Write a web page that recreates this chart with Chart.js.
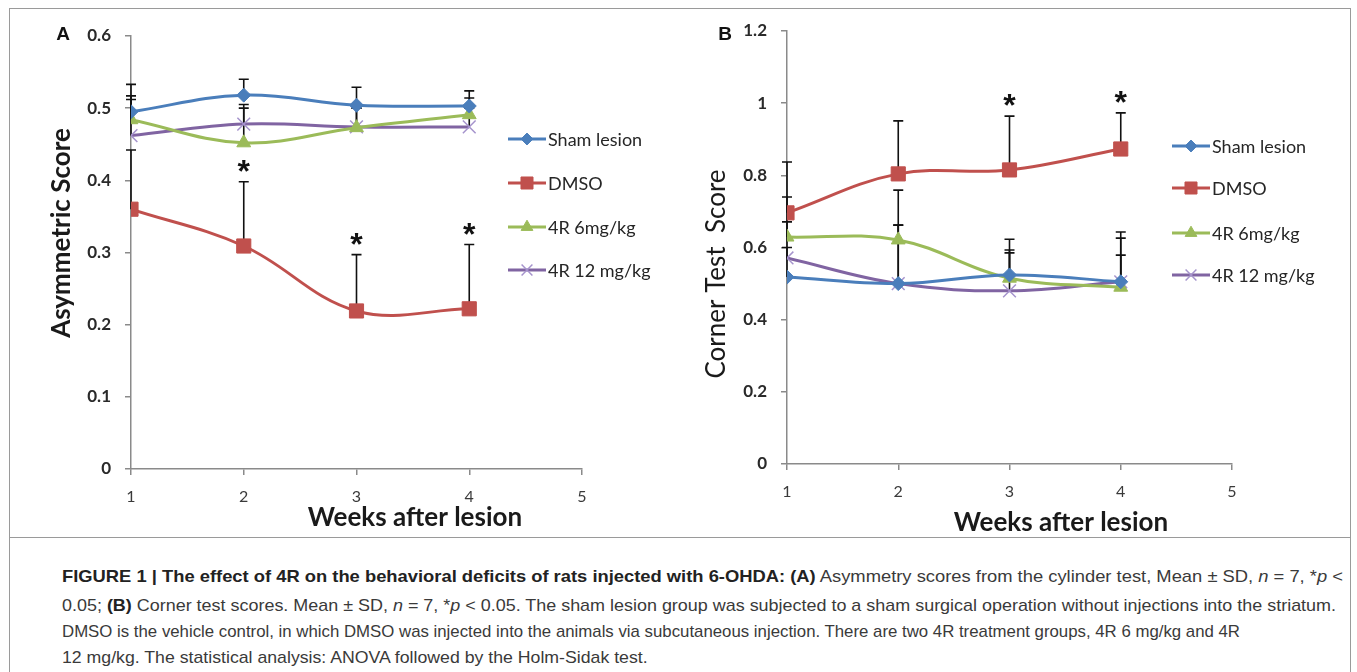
<!DOCTYPE html>
<html><head><meta charset="utf-8">
<script src="https://cdn.jsdelivr.net/npm/chart.js@4.4.0/dist/chart.umd.min.js"></script>
<style>
html,body{margin:0;padding:0;background:#fff;}
body{width:1357px;height:672px;position:relative;overflow:hidden;}
#frame{position:absolute;left:9px;top:8px;width:1342px;height:700px;border:1px solid #9a9a9a;box-sizing:border-box;}
#sep{position:absolute;left:9px;top:537px;width:1342px;height:1px;background:#9a9a9a;}
#ca{position:absolute;left:0;top:0;}
#cb{position:absolute;left:660px;top:0;}
.cap{position:absolute;left:62px;font-family:"Liberation Sans Narrow","Liberation Sans",Arial,sans-serif;font-size:17px;color:#3a3a3a;white-space:nowrap;transform-origin:0 50%;line-height:20px;}
.cap b{color:#222;}
</style></head>
<body>
<div id="frame"></div>
<div id="sep"></div>
<canvas id="ca" width="680" height="540"></canvas>
<canvas id="cb" width="690" height="540"></canvas>
<div class="cap" id="l1" style="top:567px"><b>FIGURE 1 | The effect of 4R on the behavioral deficits of rats injected with 6-OHDA: (A)</b> Asymmetry scores from the cylinder test, Mean ± SD, <i>n</i> = 7, *<i>p</i> &lt;</div>
<div class="cap" id="l2" style="top:596px">0.05; <b>(B)</b> Corner test scores. Mean ± SD, <i>n</i> = 7, *<i>p</i> &lt; 0.05. The sham lesion group was subjected to a sham surgical operation without injections into the striatum.</div>
<div class="cap" id="l3" style="top:622px">DMSO is the vehicle control, in which DMSO was injected into the animals via subcutaneous injection. There are two 4R treatment groups, 4R 6 mg/kg and 4R</div>
<div class="cap" id="l4" style="top:648px">12 mg/kg. The statistical analysis: ANOVA followed by the Holm-Sidak test.</div>
<script>
// ---------- data ----------
const weeks = [1, 2, 3, 4];
const seriesNames = ["Sham lesion", "DMSO", "4R 6mg/kg", "4R 12 mg/kg"];

// Panel A: Asymmetric score (cylinder test)
const shamA  = [0.495, 0.518, 0.504, 0.503];
const dmsoA  = [0.360, 0.309, 0.219, 0.222];
const r6A    = [0.484, 0.452, 0.473, 0.491];
const r12A   = [0.462, 0.478, 0.474, 0.474];
const shamA_sd = [0.038, 0.022, 0.025, 0.021];
const dmsoA_sd = [0.082, 0.089, 0.078, 0.089];
const r6A_sd   = [0.033, 0.048, 0.027, 0.023];
const r12A_sd  = [0.050, 0.027, 0.026, 0.026];
const starsA   = [false, true, true, true];
const yTicksA  = [0, 0.1, 0.2, 0.3, 0.4, 0.5, 0.6];

// Panel B: Corner test score
const shamB  = [0.518, 0.500, 0.524, 0.505];
const dmsoB  = [0.696, 0.804, 0.815, 0.873];
const r6B    = [0.629, 0.621, 0.515, 0.490];
const r12B   = [0.571, 0.500, 0.480, 0.505];
const shamB_sd = [0.082, 0.162, 0.099, 0.138];
const dmsoB_sd = [0.141, 0.147, 0.149, 0.100];
const r6B_sd   = [0.111, 0.138, 0.078, 0.136];
const r12B_sd  = [0.100, 0.162, 0.105, 0.074];
const starsB   = [false, false, true, true];
const yTicksB  = [0, 0.2, 0.4, 0.6, 0.8, 1.0, 1.2];

const xTicks = [1, 2, 3, 4, 5];

// ---------- styles ----------
const styles = [
  {color:'#4a7ebb', pointStyle:'rectRot', radius:7, pbg:'#4a7ebb', pbc:'#4a7ebb', pbw:1},
  {color:'#c0504d', pointStyle:'rect', radius:10, pbg:'#c0504d', pbc:'#c0504d', pbw:1},
  {color:'#9bbb59', pointStyle:'triangle', radius:8, pbg:'#9bbb59', pbc:'#9bbb59', pbw:1},
  {color:'#8064a2', pointStyle:'crossRot', radius:9, pbg:'#a593cc', pbc:'#a593cc', pbw:1.5}
];
const FONT = "Lato, 'Open Sans', sans-serif";

function makeDatasets(series, sds){
  return series.map((vals, i) => ({
    label: seriesNames[i],
    data: weeks.map((w, k) => ({x: w, y: vals[k]})),
    sd: sds[i],
    borderColor: styles[i].color,
    backgroundColor: styles[i].pbg,
    borderWidth: 3,
    tension: 0.38,
    pointStyle: styles[i].pointStyle,
    pointRadius: styles[i].radius,
    pointHoverRadius: styles[i].radius,
    pointBackgroundColor: styles[i].pbg,
    pointBorderColor: styles[i].pbc,
    pointBorderWidth: styles[i].pbw,
    fill: false
  }));
}

const errorBars = {
  id: 'errorBars',
  beforeDatasetsDraw(chart, args, opts){
    const {ctx, scales:{x, y}} = chart;
    ctx.save();
    ctx.strokeStyle = '#111';
    ctx.lineWidth = 1.6;
    chart.data.datasets.forEach(ds => {
      ds.data.forEach((p, k) => {
        const px = x.getPixelForValue(p.x);
        const y0 = y.getPixelForValue(p.y);
        const y1 = y.getPixelForValue(p.y + ds.sd[k]);
        ctx.beginPath();
        ctx.moveTo(px, y0); ctx.lineTo(px, y1);
        ctx.moveTo(px - 5, y1); ctx.lineTo(px + 5, y1);
        ctx.stroke();
      });
    });
    // significance stars above DMSO bars
    const dm = chart.data.datasets[1];
    ctx.fillStyle = '#111';
    ctx.font = "bold 32px 'Liberation Sans', Arial, sans-serif";
    ctx.textAlign = 'center';
    ctx.textBaseline = 'alphabetic';
    opts.stars.forEach((s, k) => {
      if (!s) return;
      const p = dm.data[k];
      const px = x.getPixelForValue(p.x);
      const yTop = y.getPixelForValue(p.y + dm.sd[k]);
      ctx.fillText('*', px, yTop);
    });
    ctx.restore();
  }
};

const decor = {
  id: 'decor',
  afterDraw(chart, args, opts){
    const ctx = chart.ctx;
    ctx.save();
    // legend
    const L = opts.legend;
    chart.data.datasets.forEach((ds, i) => {
      const yy = L.ys[i];
      ctx.strokeStyle = ds.borderColor;
      ctx.lineWidth = 3;
      ctx.beginPath(); ctx.moveTo(L.x, yy); ctx.lineTo(L.x + L.len, yy); ctx.stroke();
      ctx.fillStyle = ds.pointBackgroundColor;
      ctx.strokeStyle = ds.pointBorderColor;
      ctx.lineWidth = ds.pointBorderWidth;
      Chart.helpers.drawPoint(ctx, {pointStyle: ds.pointStyle, radius: ds.pointRadius * 0.85, borderWidth: ds.pointBorderWidth, rotation: 0}, L.x + L.len / 2, yy);
      ctx.fillStyle = '#262626';
      ctx.font = "18px " + FONT;
      ctx.textAlign = 'left';
      ctx.textBaseline = 'middle';
      ctx.fillText(ds.label, L.x + L.len + 2, yy + 1);
    });
    // panel letter
    ctx.fillStyle = '#111';
    ctx.font = "bold 19px 'Liberation Sans', Arial, sans-serif";
    ctx.textAlign = 'center'; ctx.textBaseline = 'middle';
    ctx.fillText(opts.letter.text, opts.letter.x, opts.letter.y);
    // axis titles
    ctx.fillStyle = '#1a1a1a';
    ctx.font = opts.xTitle.font;
    ctx.fillText(opts.xTitle.text, opts.xTitle.x, opts.xTitle.y);
    ctx.translate(opts.yTitle.x, opts.yTitle.y);
    ctx.rotate(-Math.PI / 2);
    ctx.font = opts.yTitle.font;
    ctx.fillText(opts.yTitle.text, 0, 0);
    ctx.restore();
  }
};

function makeChart(id, datasets, cfg){
  return new Chart(document.getElementById(id), {
    type: 'line',
    data: {datasets},
    options: {
      responsive: false,
      animation: false,
      events: [],
      layout: {padding: {top: cfg.top, right: cfg.right, left: 0, bottom: 0}},
      plugins: {
        legend: {display: false},
        tooltip: {enabled: false},
        errorBars: {stars: cfg.stars},
        decor: cfg.decor
      },
      scales: {
        x: {
          type: 'linear', min: 1, max: 5,
          afterBuildTicks: s => { s.ticks = xTicks.map(v => ({value: v})); },
          ticks: {color: '#3a3a3a', font: {family: FONT, size: 16}, padding: 12, maxRotation: 0},
          grid: {display: true, drawOnChartArea: false, drawTicks: true, tickLength: 6, color: '#8a8a8a', lineWidth: 1.5},
          border: {display: true, color: '#8a8a8a', width: 1.5},
          afterFit: s => { s.height = cfg.xh; }
        },
        y: {
          min: cfg.yTicks[0], max: cfg.yTicks[cfg.yTicks.length - 1],
          afterBuildTicks: s => { s.ticks = cfg.yTicks.map(v => ({value: v})); },
          ticks: {color: '#2a2a2a', font: {family: FONT, size: 17, weight: 'bold'}, padding: 14,
                  callback: v => String(Math.round(v * 10) / 10)},
          grid: {display: true, drawOnChartArea: false, drawTicks: true, tickLength: 6, color: '#8a8a8a', lineWidth: 1.5},
          border: {display: true, color: '#8a8a8a', width: 1.5},
          afterFit: s => { s.width = cfg.yw; }
        }
      }
    },
    plugins: [errorBars, decor]
  });
}

makeChart('ca', makeDatasets([shamA, dmsoA, r6A, r12A], [shamA_sd, dmsoA_sd, r6A_sd, r12A_sd]), {
  top: 36, right: 98, xh: 71, yw: 131, yTicks: yTicksA, stars: starsA,
  decor: {
    legend: {x: 508, len: 38, ys: [139, 183, 227, 270]},
    letter: {text: 'A', x: 63, y: 35},
    xTitle: {text: 'Weeks after lesion', x: 415, y: 518, font: "bold 26px " + FONT},
    yTitle: {text: 'Asymmetric Score', x: 62, y: 233, font: "bold 26px " + FONT}
  }
});

makeChart('cb', makeDatasets([shamB, dmsoB, r6B, r12B], [shamB_sd, dmsoB_sd, r6B_sd, r12B_sd]), {
  top: 31, right: 118, xh: 76, yw: 127, yTicks: yTicksB, stars: starsB,
  decor: {
    legend: {x: 512, len: 38, ys: [146, 188, 233, 275]},
    letter: {text: 'B', x: 65, y: 35},
    xTitle: {text: 'Weeks after lesion', x: 401, y: 523, font: "bold 26px " + FONT},
    yTitle: {text: 'Corner Test  Score', x: 57, y: 274, font: "26px " + FONT}
  }
});

// justify caption lines to reference widths
const targets = {l1: 1281, l2: 1274, l3: 1178};
let scales = [];
Object.keys(targets).forEach(id => {
  const el = document.getElementById(id);
  const w = el.getBoundingClientRect().width;
  const s = targets[id] / w;
  scales.push(s);
  el.style.transform = 'scaleX(' + s + ')';
});
const avg = scales.reduce((a, b) => a + b, 0) / scales.length;
document.getElementById('l4').style.transform = 'scaleX(' + avg + ')';
</script>
</body></html>
